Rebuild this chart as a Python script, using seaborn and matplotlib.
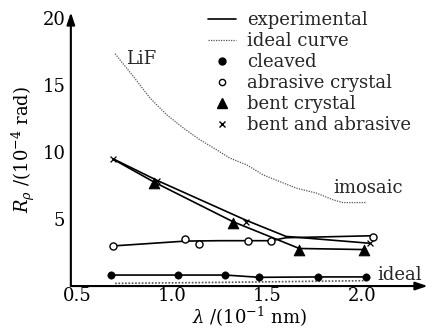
import numpy as np
import pandas as pd
import matplotlib
matplotlib.use("Agg")
import matplotlib.pyplot as plt
from matplotlib.lines import Line2D
import seaborn as sns

# ---- data ----
cleaved_x = [0.68, 1.03, 1.28, 1.46, 1.77, 2.02]
cleaved_y = [0.82, 0.82, 0.82, 0.65, 0.68, 0.68]

abrasive_x = [0.69, 1.07, 1.14, 1.40, 1.52, 2.06]
abrasive_y = [2.99, 3.49, 3.16, 3.34, 3.34, 3.63]
abrasive_line_x = [0.69, 1.07, 1.25, 1.40, 1.52, 1.60, 2.06]
abrasive_line_y = [2.99, 3.35, 3.38, 3.38, 3.38, 3.60, 3.75]

bent_x = [0.905, 1.32, 1.67, 2.01]
bent_y = [7.71, 4.72, 2.69, 2.69]
bent_line_x = [0.69, 0.905, 1.32, 1.67, 2.01]
bent_line_y = [9.45, 7.75, 4.80, 2.80, 2.72]

bentabr_x = [0.69, 0.92, 1.39, 2.04]
bentabr_y = [9.48, 7.84, 4.80, 3.19]
bentabr_line_x = [0.69, 0.92, 1.39, 1.60, 2.04]
bentabr_line_y = [9.48, 7.88, 4.90, 3.70, 3.19]

ideal_curve_x = [0.70, 0.796, 0.884, 0.972, 1.06, 1.147, 1.235, 1.305,
                 1.393, 1.48, 1.568, 1.656, 1.762, 1.849, 1.90, 2.025]
ideal_curve_y = [17.31, 15.62, 14.01, 12.76, 11.77, 10.90, 10.15, 9.53,
                 9.03, 8.28, 7.78, 7.29, 6.92, 6.42, 6.22, 6.22]

ideal_low_x = [0.70, 1.30, 2.02]
ideal_low_y = [0.20, 0.28, 0.40]

legend_labels = ["experimental", "ideal curve", "cleaved",
                 "abrasive crystal", "bent crystal", "bent and abrasive"]
xticks = [0.5, 1.0, 1.5, 2.0]
yticks = [5, 10, 15, 20]

# ---- figure ----
sns.set_theme(style="white")
plt.rcParams["font.family"] = ["DejaVu Serif"]
plt.rcParams["mathtext.fontset"] = "dejavuserif"

fig = plt.figure(figsize=(4.32, 3.33), dpi=100)
ax = fig.add_axes([0.164, 0.141, 0.826, 0.822])

lw = 1.2
sns.lineplot(x=ideal_curve_x, y=ideal_curve_y, ax=ax, color="#555555",
             linestyle=(0, (1, 1)), linewidth=0.9, estimator=None)
sns.lineplot(x=ideal_low_x, y=ideal_low_y, ax=ax, color="#555555",
             linestyle=(0, (1, 1)), linewidth=1.2, estimator=None)

sns.lineplot(x=cleaved_x, y=cleaved_y, ax=ax, color="black", linewidth=lw, estimator=None)
sns.lineplot(x=abrasive_line_x, y=abrasive_line_y, ax=ax, color="black", linewidth=lw, estimator=None)
sns.lineplot(x=bent_line_x, y=bent_line_y, ax=ax, color="black", linewidth=lw, estimator=None)
sns.lineplot(x=bentabr_line_x, y=bentabr_line_y, ax=ax, color="black", linewidth=lw, estimator=None)

sns.scatterplot(x=cleaved_x, y=cleaved_y, ax=ax, marker="o", color="black",
                s=28, edgecolor="black", zorder=5)
sns.scatterplot(x=abrasive_x, y=abrasive_y, ax=ax, marker="o", color="white",
                s=26, edgecolor="black", linewidth=1.0, zorder=5)
sns.scatterplot(x=bent_x, y=bent_y, ax=ax, marker="^", color="black",
                s=60, edgecolor="black", zorder=5)
sns.scatterplot(x=bentabr_x, y=bentabr_y, ax=ax, marker="x", color="black",
                s=18, linewidth=0.9, zorder=5)

ax.set_xlim(0.467, 2.346)
ax.set_ylim(0, 20.4)
ax.set_xticks(xticks)
ax.set_xticklabels(["0.5", "1.0", "1.5", "2.0"])
ax.set_yticks(yticks)
ax.set_yticklabels([str(v) for v in yticks])
ax.tick_params(axis="x", length=0, labelsize=13, colors="black", pad=1)
ax.tick_params(axis="y", length=0, labelsize=13, colors="black", pad=4)

for s in ax.spines.values():
    s.set_visible(False)
ax.annotate("", xy=(0, 1.0), xytext=(0, 0), xycoords="axes fraction",
            arrowprops=dict(arrowstyle="-|>,head_length=0.6,head_width=0.2",
                            color="black", lw=1.5, shrinkA=0, shrinkB=0))
ax.annotate("", xy=(1.0, 0), xytext=(0, 0), xycoords="axes fraction",
            arrowprops=dict(arrowstyle="-|>,head_length=0.6,head_width=0.2",
                            color="black", lw=1.5, shrinkA=0, shrinkB=0))

ax.set_xlabel(r"$\lambda$ /(10$^{-1}$ nm)", fontsize=13, color="black", labelpad=0)
ax.set_ylabel(r"$R_\rho$ /(10$^{-4}$ rad)", fontsize=13, color="black", labelpad=4)

ax.text(0.76, 16.9, "LiF", fontsize=13, va="center", ha="left")
ax.text(1.85, 7.3, "imosaic", fontsize=13, va="center", ha="left")
ax.text(2.08, 0.85, "ideal", fontsize=13, va="center", ha="left")

handles = [
    Line2D([], [], color="black", lw=lw),
    Line2D([], [], color="#555555", lw=0.9, linestyle=(0, (1, 1))),
    Line2D([], [], color="black", marker="o", linestyle="none", markersize=5),
    Line2D([], [], color="black", marker="o", markerfacecolor="white",
           linestyle="none", markersize=4.5),
    Line2D([], [], color="black", marker="^", linestyle="none", markersize=7),
    Line2D([], [], color="black", marker="x", linestyle="none", markersize=4),
]
leg = ax.legend(handles, legend_labels, loc="upper left",
                bbox_to_anchor=(0.363, 1.03), frameon=False, fontsize=13,
                handlelength=1.6, handletextpad=0.6, labelspacing=0.165,
                borderaxespad=0)

fig.savefig("out.png", dpi=100)
